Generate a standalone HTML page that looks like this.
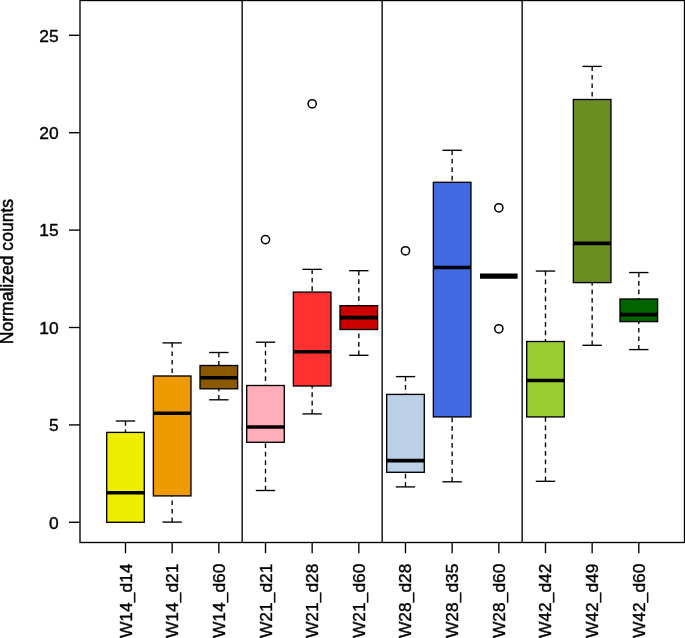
<!DOCTYPE html>
<html><head><meta charset="utf-8"><title>Boxplot</title>
<style>html,body{margin:0;padding:0;background:#fff;}body{width:685px;height:638px;overflow:hidden;}svg{display:block;}text{font-family:"Liberation Sans",sans-serif;fill:#000;stroke:#000;stroke-width:0.4px;}svg{will-change:transform;}</style>
</head><body>
<svg width="685" height="638" viewBox="0 0 685 638">
<rect x="0" y="0" width="685" height="638" fill="#fff"/>
<g stroke="#000" stroke-width="1.35" fill="none">
<line x1="125.50" y1="421.0" x2="125.50" y2="432.4" stroke-dasharray="4.7 3.8"/>
<line x1="115.80" y1="522.3" x2="135.20" y2="522.3"/>
<line x1="115.80" y1="421.0" x2="135.20" y2="421.0"/>
<rect x="106.70" y="432.4" width="37.60" height="89.90" fill="#EEEE00"/>
<line x1="106.70" y1="492.8" x2="144.30" y2="492.8" stroke-width="3.6"/>
</g>
<g stroke="#000" stroke-width="1.35" fill="none">
<line x1="172.16" y1="522.1" x2="172.16" y2="495.9" stroke-dasharray="4.7 3.8"/>
<line x1="172.16" y1="342.9" x2="172.16" y2="376.0" stroke-dasharray="4.7 3.8"/>
<line x1="162.47" y1="522.1" x2="181.86" y2="522.1"/>
<line x1="162.47" y1="342.9" x2="181.86" y2="342.9"/>
<rect x="153.36" y="376.0" width="37.60" height="119.90" fill="#EE9A00"/>
<line x1="153.36" y1="413.2" x2="190.97" y2="413.2" stroke-width="3.6"/>
</g>
<g stroke="#000" stroke-width="1.35" fill="none">
<line x1="218.83" y1="399.8" x2="218.83" y2="388.8" stroke-dasharray="4.7 3.8"/>
<line x1="218.83" y1="352.5" x2="218.83" y2="365.5" stroke-dasharray="4.7 3.8"/>
<line x1="209.13" y1="399.8" x2="228.53" y2="399.8"/>
<line x1="209.13" y1="352.5" x2="228.53" y2="352.5"/>
<rect x="200.03" y="365.5" width="37.60" height="23.30" fill="#8B5A00"/>
<line x1="200.03" y1="377.7" x2="237.63" y2="377.7" stroke-width="3.6"/>
</g>
<g stroke="#000" stroke-width="1.35" fill="none">
<line x1="265.50" y1="490.5" x2="265.50" y2="442.3" stroke-dasharray="4.7 3.8"/>
<line x1="265.50" y1="342.2" x2="265.50" y2="385.5" stroke-dasharray="4.7 3.8"/>
<line x1="255.80" y1="490.5" x2="275.19" y2="490.5"/>
<line x1="255.80" y1="342.2" x2="275.19" y2="342.2"/>
<rect x="246.69" y="385.5" width="37.60" height="56.80" fill="#FFAEB9"/>
<line x1="246.69" y1="427.05" x2="284.30" y2="427.05" stroke-width="3.6"/>
<circle cx="265.50" cy="239.6" r="4.1" stroke-width="1.5"/>
</g>
<g stroke="#000" stroke-width="1.35" fill="none">
<line x1="312.16" y1="413.9" x2="312.16" y2="386.0" stroke-dasharray="4.7 3.8"/>
<line x1="312.16" y1="269.35" x2="312.16" y2="292.1" stroke-dasharray="4.7 3.8"/>
<line x1="302.46" y1="413.9" x2="321.86" y2="413.9"/>
<line x1="302.46" y1="269.35" x2="321.86" y2="269.35"/>
<rect x="293.36" y="292.1" width="37.60" height="93.90" fill="#FF3030"/>
<line x1="293.36" y1="351.7" x2="330.96" y2="351.7" stroke-width="3.6"/>
<circle cx="312.16" cy="103.8" r="4.1" stroke-width="1.5"/>
</g>
<g stroke="#000" stroke-width="1.35" fill="none">
<line x1="358.82" y1="355.3" x2="358.82" y2="329.5" stroke-dasharray="4.7 3.8"/>
<line x1="358.82" y1="270.7" x2="358.82" y2="305.7" stroke-dasharray="4.7 3.8"/>
<line x1="349.12" y1="355.3" x2="368.52" y2="355.3"/>
<line x1="349.12" y1="270.7" x2="368.52" y2="270.7"/>
<rect x="340.02" y="305.7" width="37.60" height="23.80" fill="#CD0000"/>
<line x1="340.02" y1="317.6" x2="377.62" y2="317.6" stroke-width="3.6"/>
</g>
<g stroke="#000" stroke-width="1.35" fill="none">
<line x1="405.49" y1="486.9" x2="405.49" y2="472.3" stroke-dasharray="4.7 3.8"/>
<line x1="405.49" y1="376.6" x2="405.49" y2="394.4" stroke-dasharray="4.7 3.8"/>
<line x1="395.79" y1="486.9" x2="415.19" y2="486.9"/>
<line x1="395.79" y1="376.6" x2="415.19" y2="376.6"/>
<rect x="386.69" y="394.4" width="37.60" height="77.90" fill="#BCD0E8"/>
<line x1="386.69" y1="460.6" x2="424.29" y2="460.6" stroke-width="3.6"/>
<circle cx="405.49" cy="250.8" r="4.1" stroke-width="1.5"/>
</g>
<g stroke="#000" stroke-width="1.35" fill="none">
<line x1="452.15" y1="481.8" x2="452.15" y2="416.9" stroke-dasharray="4.7 3.8"/>
<line x1="452.15" y1="150.3" x2="452.15" y2="182.3" stroke-dasharray="4.7 3.8"/>
<line x1="442.45" y1="481.8" x2="461.85" y2="481.8"/>
<line x1="442.45" y1="150.3" x2="461.85" y2="150.3"/>
<rect x="433.35" y="182.3" width="37.60" height="234.60" fill="#4169E1"/>
<line x1="433.35" y1="267.5" x2="470.95" y2="267.5" stroke-width="3.6"/>
</g>
<g stroke="#000" stroke-width="1.35" fill="none">
<rect x="480.02" y="276.15" width="37.60" height="0.00" fill="#FFFFFF"/>
<line x1="480.02" y1="276.15" x2="517.62" y2="276.15" stroke-width="5.3"/>
<circle cx="498.82" cy="207.8" r="4.1" stroke-width="1.5"/>
<circle cx="498.82" cy="328.8" r="4.1" stroke-width="1.5"/>
</g>
<g stroke="#000" stroke-width="1.35" fill="none">
<line x1="545.49" y1="481.3" x2="545.49" y2="416.9" stroke-dasharray="4.7 3.8"/>
<line x1="545.49" y1="271.05" x2="545.49" y2="341.5" stroke-dasharray="4.7 3.8"/>
<line x1="535.78" y1="481.3" x2="555.19" y2="481.3"/>
<line x1="535.78" y1="271.05" x2="555.19" y2="271.05"/>
<rect x="526.69" y="341.5" width="37.60" height="75.40" fill="#9ACD32"/>
<line x1="526.69" y1="380.5" x2="564.28" y2="380.5" stroke-width="3.6"/>
</g>
<g stroke="#000" stroke-width="1.35" fill="none">
<line x1="592.15" y1="345.3" x2="592.15" y2="282.6" stroke-dasharray="4.7 3.8"/>
<line x1="592.15" y1="66.4" x2="592.15" y2="99.5" stroke-dasharray="4.7 3.8"/>
<line x1="582.45" y1="345.3" x2="601.85" y2="345.3"/>
<line x1="582.45" y1="66.4" x2="601.85" y2="66.4"/>
<rect x="573.35" y="99.5" width="37.60" height="183.10" fill="#6B8E23"/>
<line x1="573.35" y1="243.4" x2="610.95" y2="243.4" stroke-width="3.6"/>
</g>
<g stroke="#000" stroke-width="1.35" fill="none">
<line x1="638.81" y1="349.6" x2="638.81" y2="321.6" stroke-dasharray="4.7 3.8"/>
<line x1="638.81" y1="272.55" x2="638.81" y2="299.0" stroke-dasharray="4.7 3.8"/>
<line x1="629.11" y1="349.6" x2="648.51" y2="349.6"/>
<line x1="629.11" y1="272.55" x2="648.51" y2="272.55"/>
<rect x="620.01" y="299.0" width="37.60" height="22.60" fill="#006400"/>
<line x1="620.01" y1="314.6" x2="657.61" y2="314.6" stroke-width="3.6"/>
</g>
<g stroke="#000" stroke-width="1.35">
<line x1="242.16" y1="0" x2="242.16" y2="542.5"/>
<line x1="382.16" y1="0" x2="382.16" y2="542.5"/>
<line x1="522.15" y1="0" x2="522.15" y2="542.5"/>
</g>
<rect x="80.0" y="0.5" width="604.50" height="542.00" fill="none" stroke="#000" stroke-width="1.35"/>
<g stroke="#000" stroke-width="1.35">
<line x1="69" y1="522.30" x2="80.0" y2="522.30"/>
<line x1="69" y1="424.90" x2="80.0" y2="424.90"/>
<line x1="69" y1="327.50" x2="80.0" y2="327.50"/>
<line x1="69" y1="230.10" x2="80.0" y2="230.10"/>
<line x1="69" y1="132.70" x2="80.0" y2="132.70"/>
<line x1="69" y1="35.30" x2="80.0" y2="35.30"/>
<line x1="125.50" y1="542.5" x2="125.50" y2="553.2"/>
<line x1="172.16" y1="542.5" x2="172.16" y2="553.2"/>
<line x1="218.83" y1="542.5" x2="218.83" y2="553.2"/>
<line x1="265.50" y1="542.5" x2="265.50" y2="553.2"/>
<line x1="312.16" y1="542.5" x2="312.16" y2="553.2"/>
<line x1="358.82" y1="542.5" x2="358.82" y2="553.2"/>
<line x1="405.49" y1="542.5" x2="405.49" y2="553.2"/>
<line x1="452.15" y1="542.5" x2="452.15" y2="553.2"/>
<line x1="498.82" y1="542.5" x2="498.82" y2="553.2"/>
<line x1="545.49" y1="542.5" x2="545.49" y2="553.2"/>
<line x1="592.15" y1="542.5" x2="592.15" y2="553.2"/>
<line x1="638.81" y1="542.5" x2="638.81" y2="553.2"/>
</g>
<g font-size="17.4" text-anchor="end">
<text x="58.6" y="528.65">0</text>
<text x="58.6" y="431.25">5</text>
<text x="58.6" y="333.85">10</text>
<text x="58.6" y="236.45">15</text>
<text x="58.6" y="139.05">20</text>
<text x="58.6" y="41.65">25</text>
</g>
<g font-size="17.4" text-anchor="end">
<text transform="translate(131.50,563.6) rotate(-90)">W14_d14</text>
<text transform="translate(178.16,563.6) rotate(-90)">W14_d21</text>
<text transform="translate(224.83,563.6) rotate(-90)">W14_d60</text>
<text transform="translate(271.50,563.6) rotate(-90)">W21_d21</text>
<text transform="translate(318.16,563.6) rotate(-90)">W21_d28</text>
<text transform="translate(364.82,563.6) rotate(-90)">W21_d60</text>
<text transform="translate(411.49,563.6) rotate(-90)">W28_d28</text>
<text transform="translate(458.15,563.6) rotate(-90)">W28_d35</text>
<text transform="translate(504.82,563.6) rotate(-90)">W28_d60</text>
<text transform="translate(551.49,563.6) rotate(-90)">W42_d42</text>
<text transform="translate(598.15,563.6) rotate(-90)">W42_d49</text>
<text transform="translate(644.81,563.6) rotate(-90)">W42_d60</text>
</g>
<text font-size="17.4" text-anchor="middle" transform="translate(13.1,271.6) rotate(-90) scale(1.01,1.075)" style="stroke-width:0.45px">Normalized counts</text>
</svg></body></html>
